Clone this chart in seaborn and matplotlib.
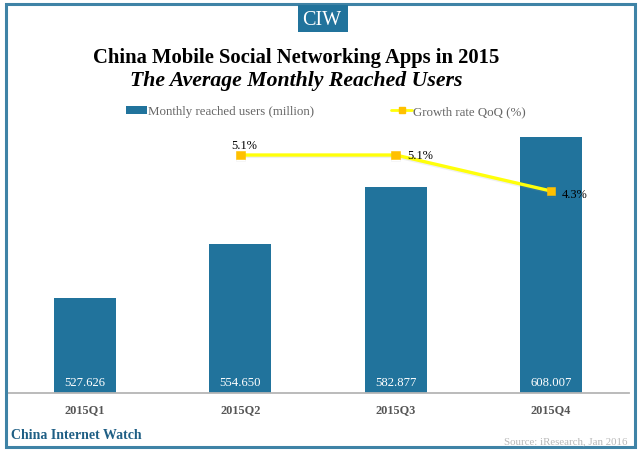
import matplotlib
matplotlib.use('Agg')
import matplotlib.pyplot as plt
import matplotlib.patheffects as pe
from matplotlib.patches import Rectangle
from matplotlib.lines import Line2D
import pandas as pd
import seaborn as sns

quarters = ['2015Q1', '2015Q2', '2015Q3', '2015Q4']
users = [527.626, 554.650, 582.877, 608.007]
growth_quarters = ['2015Q2', '2015Q3', '2015Q4']
growth = [5.1, 5.1, 4.3]
growth_labels = ['5.1%', '5.1%', '4.3%']

BLUE = '#21739c'
W, H = 640, 452

sns.set_theme(style='white')
plt.rcParams['font.family'] = ['Liberation Serif', 'DejaVu Serif']

df = pd.DataFrame({'quarter': quarters, 'users': users})
dfGrowth = pd.DataFrame({'quarter': growth_quarters, 'growth': growth})

fig = plt.figure(figsize=(W / 100, H / 100), dpi=100, facecolor='white')
# plot area in pixels: x 7.4-628.6, y 130-394
ax = fig.add_axes([7.4 / W, 1 - 394 / H, 621.2 / W, 264 / H])
sns.barplot(data=df, x='quarter', y='users', color=BLUE, saturation=1, width=0.4, linewidth=0, ax=ax, zorder=2)
ax.set_ylim(480.0, 612.1)
ax.set_xlim(-0.5, 3.5)
ax.set_xlabel('')
ax.set_ylabel('')
ax.set_yticks([])
ax.patch.set_alpha(0)
ax.tick_params(axis='x', length=0, pad=7.5)
for lab in ax.get_xticklabels():
    lab.set_fontsize(8.8)
    lab.set_fontweight('bold')
    lab.set_color('#555555')
sns.despine(ax=ax, left=True)
ax.spines['bottom'].set_color('#b5b5b5')
ax.spines['bottom'].set_linewidth(1.3)

for i, v in enumerate(users):
    ax.text(i, 480.0 + 5.6, '%.3f' % v, color='white', fontsize=9.2, ha='center', va='center', zorder=3)

ax2 = ax.twinx()
ax2.set_ylim(-0.189, 5.678)
ax2.set_yticks([])
for s in ax2.spines.values():
    s.set_visible(False)
growthX = [quarters.index(q) for q in growth_quarters]
dfGrowth['x'] = growthX
sns.lineplot(data=dfGrowth, x='x', y='growth', color='#ffff0a', linewidth=2.4, marker='s', markersize=6.2,
             markerfacecolor='#ffc000', markeredgecolor='#ffc000', markeredgewidth=0.4, ax=ax2, zorder=4,
             path_effects=[pe.SimpleLineShadow(offset=(0, -1), shadow_color='#999999', alpha=0.15), pe.Normal()])
ax2.set_xlabel('')
ax2.set_ylabel('')
ax2.set_xlim(-0.5, 3.5)
ax2.text(growthX[0] + 0.025, growth[0] + 0.22, growth_labels[0], fontsize=8.9, color='black', ha='center', va='center', zorder=5)
ax2.text(growthX[1] + 0.155, growth[1] - 0.01, growth_labels[1], fontsize=8.9, color='black', ha='center', va='center', zorder=5)
ax2.text(growthX[2] + 0.15, growth[2] - 0.06, growth_labels[2], fontsize=8.9, color='black', ha='center', va='center', zorder=5)

# outer frame and logo
fig.add_artist(Rectangle((6 / W, 1 - 448 / H), 629 / W, 443 / H, transform=fig.transFigure,
                         fill=False, edgecolor='#3f83a6', linewidth=2.2))
fig.add_artist(Rectangle((298 / W, 1 - 33 / H), 50 / W, 27 / H, transform=fig.transFigure,
                         facecolor=BLUE, edgecolor='none'))
fig.text(322 / W, 1 - 20.5 / H, 'CIW', color='white', fontsize=14.5, ha='center', va='center')

fig.text(296 / W, 1 - 58.5 / H, 'China Mobile Social Networking Apps in 2015', fontsize=14.9, fontweight='bold',
         color='black', ha='center', va='center')
fig.text(296 / W, 1 - 81 / H, 'The Average Monthly Reached Users', fontsize=15.7, fontweight='bold', style='italic',
         color='black', ha='center', va='center')

handles = [Rectangle((0, 0), 1, 1, facecolor=BLUE, edgecolor='none'),
           Line2D([], [], color='#ffff0a', linewidth=2, marker='s', markersize=5,
                  markerfacecolor='#ffc000', markeredgecolor='#ffc000')]
fig.legend(handles, ['Monthly reached users (million)', 'Growth rate QoQ (%)'], ncol=2, frameon=False,
           loc='center', bbox_to_anchor=(326 / W, 1 - 112.5 / H), fontsize=9.3, labelcolor='#666666',
           handlelength=1.6, handleheight=0.5, handletextpad=0.1, columnspacing=6.0, borderpad=0, borderaxespad=0)

fig.text(11 / W, 1 - 436 / H, 'China Internet Watch', color='#1f5f85', fontsize=10, fontweight='bold', ha='left', va='center')
fig.text(627 / W, 1 - 442 / H, 'Source: iResearch, Jan 2016', color='#b8b8b8', fontsize=7.8, ha='right', va='center')

fig.savefig('out.png', dpi=100)
plt.close(fig)
